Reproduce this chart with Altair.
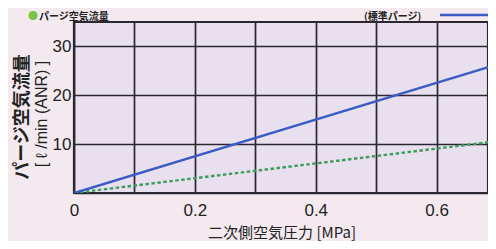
import altair as alt
import pandas as pd

# Data
pressure = [0.0, 0.7]          # MPa
flow_standard = [0.0, 26.3]    # blue solid line  [l/min (ANR)]
flow_other = [0.0, 10.6]       # green dotted line

x_ticks = [0.0, 0.1, 0.2, 0.3, 0.4, 0.5, 0.6]
y_ticks = [0, 5, 10, 15, 20, 25, 30]

title_dot = "●"
title_text = "パージ空気流量"
legend_text = "(標準パージ)"
y_title_1 = "パージ空気流量"
y_title_2 = "[ ℓ /min (ANR) ]"
x_title = "二次側空気圧力 [MPa]"

NUM_FONT = "Liberation Sans"
JP_FONT = "Noto Sans CJK JP"
GRID = "#2b2630"
BLUE = "#3b5cc2"
GREEN = "#3f9a5c"

df = pd.DataFrame({"p": pressure, "std": flow_standard, "oth": flow_other})

xs = alt.X(
    "p:Q",
    scale=alt.Scale(domain=[0, 0.685], nice=False, zero=True),
    axis=alt.Axis(
        values=x_ticks,
        labelExpr="datum.value == 0 ? '0' : (round(datum.value*10) % 2 == 0 ? format(datum.value, '.1f') : '')",
        title=None,
        grid=True,
        ticks=False,
        tickSize=0,
        domain=False,
        labelPadding=9,
        labelFont=NUM_FONT,
        labelFontSize=17,
        labelColor="#222222",
        labelBaseline="top",
        labelFlush=False,
        labelOverlap=False,
    ),
)

base = alt.Chart(df)

blue = base.mark_line(clip=True, color=BLUE, strokeWidth=2.6).encode(
    x=xs,
    y=alt.Y(
        "std:Q",
        scale=alt.Scale(domain=[0, 35], nice=False),
        axis=alt.Axis(
            values=y_ticks,
            labelExpr="(datum.value % 10 == 0 && datum.value > 0) ? datum.label : ''",
            title=None,
            grid=True,
            ticks=False,
            tickSize=0,
            domain=False,
            labelPadding=3,
            labelFont=NUM_FONT,
            labelFontSize=17,
            labelColor="#222222",
            labelOverlap=False,
        ),
    ),
)

green = base.mark_line(
    clip=True, color=GREEN, strokeWidth=2.4, strokeDash=[3.5, 2.5]
).encode(x=xs, y=alt.Y("oth:Q"))


def label(text, x, y, size, weight="normal", angle=0, align="center", baseline="middle", font=JP_FONT, color="#222222"):
    return alt.Chart(pd.DataFrame({"t": [text]})).mark_text(
        font=font,
        fontSize=size,
        fontWeight=weight,
        angle=angle,
        align=align,
        baseline=baseline,
        color=color,
    ).encode(x=alt.value(x), y=alt.value(y), text="t:N")


legend_line = alt.Chart(pd.DataFrame({"k": [legend_text]})).mark_rule(
    color=BLUE, strokeWidth=2.5
).encode(x=alt.value(366), x2=alt.value(414), y=alt.value(-7))

texts = [
    label(title_dot, -46, -10, 10, "bold", align="left", baseline="top", color="#7cc243"),
    label(title_text, -35, -10, 10, "bold", align="left", baseline="top"),
    label(legend_text, 290, -10, 10, "bold", align="left", baseline="top"),
    label(y_title_1, -51, 95, 18, "bold", angle=270),
    label(y_title_2, -32, 92, 16, "normal", angle=270, font=NUM_FONT),
    label(x_title, 208, 219, 15, "normal", baseline="bottom"),
]

chart = alt.layer(green, blue, legend_line, *texts).properties(
    width=414,
    height=171,
    autosize="none",
    padding={"left": 66, "top": 14, "right": 0, "bottom": 48},
    background="#f3e9ef",
).configure_view(
    fill="#e8e0ef", stroke=GRID, strokeWidth=2.2
).configure_axis(
    gridColor=GRID, gridWidth=1.7, gridOpacity=1
)

chart.save("out.html", embed_options={"renderer": "svg", "actions": False})
